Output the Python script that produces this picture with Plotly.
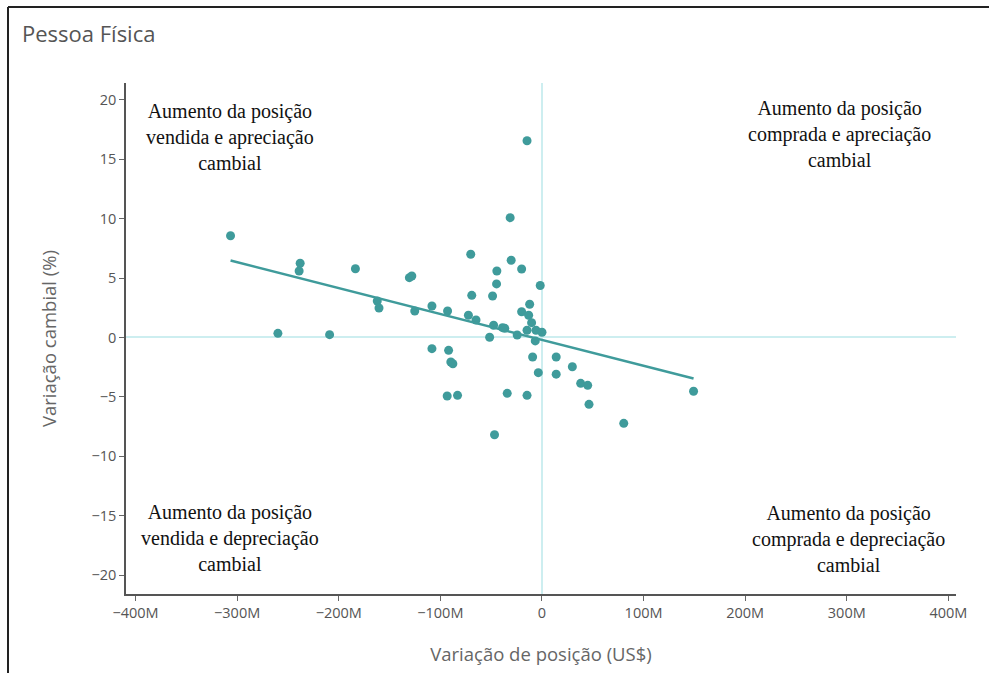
import plotly.graph_objects as go

# Variação de posição (US$ milhões) e variação cambial (%) de cada período
pos_change_musd = [
    -306.5, -238.0, -239.0, -259.9, -209.0, -183.6, -130.5, -128.1, -162.1, -160.4,
    -125.2, -108.3, -108.3, -92.9, -91.9, -89.7, -87.7, -93.3, -83.1, -70.1,
    -69.1, -72.4, -64.9, -51.5, -48.6, -47.6, -44.7, -44.4, -46.7, -38.8,
    -36.6, -34.2, -31.3, -30.3, -24.4, -20.0, -20.0, -14.7, -14.7, -14.7,
    -13.1, -12.1, -10.2, -9.2, -6.6, -5.9, -3.6, -1.7, 0.0, 14.0,
    14.0, 29.9, 38.1, 45.0, 46.3, 80.5, 149.2,
]
fx_change_pct = [
    8.57, 6.25, 5.60, 0.35, 0.24, 5.79, 5.04, 5.18, 3.07, 2.48,
    2.23, 2.65, -0.94, 2.23, -1.08, -2.06, -2.21, -4.93, -4.87, 7.01,
    3.55, 1.87, 1.47, 0.02, 3.49, 1.03, 4.51, 5.60, -8.19, 0.83,
    0.77, -4.70, 10.09, 6.50, 0.21, 5.77, 2.17, 16.57, 0.61, -4.87,
    1.87, 2.80, 1.25, -1.64, -0.29, 0.61, -2.96, 4.38, 0.44, -1.64,
    -3.09, -2.46, -3.86, -4.03, -5.63, -7.23, -4.53,
]

# Reta de tendência (% por US$ milhão)
trend_slope = -0.0218
trend_intercept = -0.2

quadrant_labels = [
    "Aumento da posição<br>vendida e apreciação<br>cambial",
    "Aumento da posição<br>comprada e apreciação<br>cambial",
    "Aumento da posição<br>vendida e depreciação<br>cambial",
    "Aumento da posição<br>comprada e depreciação<br>cambial",
]

TEAL = "#3f9b9b"
GREY = "#555555"
SERIF = "Liberation Serif, Times New Roman, serif"
SANS = "Open Sans, Noto Sans, sans-serif"

x_usd = [v * 1e6 for v in pos_change_musd]
x_lo, x_hi = min(pos_change_musd), max(pos_change_musd)
trend_x = [x_lo * 1e6, x_hi * 1e6]
trend_y = [trend_intercept + trend_slope * x_lo, trend_intercept + trend_slope * x_hi]

fig = go.Figure()
fig.add_trace(go.Scatter(
    x=x_usd, y=fx_change_pct, mode="markers",
    marker=dict(color=TEAL, size=9),
    hoverinfo="x+y",
))
fig.add_trace(go.Scatter(
    x=trend_x, y=trend_y, mode="lines",
    line=dict(color=TEAL, width=2.5),
    hoverinfo="skip",
))

# Textos dos quadrantes (coordenadas relativas à área do gráfico)
quad_pos = [(0.1253, 0.895), (0.860, 0.900), (0.1253, 0.1096), (0.870, 0.108)]
for text, (px, py) in zip(quadrant_labels, quad_pos):
    fig.add_annotation(
        text=text, x=px, y=py, xref="paper", yref="paper",
        xanchor="center", yanchor="middle", align="center", showarrow=False,
        font=dict(family=SERIF, size=20, color="#111111"),
    )

# Moldura do painel (borda esquerda e superior)
L, R, T, B = 126, 956, 83, 594
def px_to_paper_x(px):
    return (px - L) / (R - L)
def px_to_paper_y(py):
    return 1 - (py - T) / (B - T)

frame = dict(color="#222222", width=2)
fig.add_shape(type="line", xref="paper", yref="paper",
              x0=px_to_paper_x(8), x1=px_to_paper_x(8),
              y0=px_to_paper_y(7), y1=px_to_paper_y(680), line=frame)
fig.add_shape(type="line", xref="paper", yref="paper",
              x0=px_to_paper_x(8), x1=px_to_paper_x(995),
              y0=px_to_paper_y(7), y1=px_to_paper_y(7), line=frame)

fig.update_layout(
    width=989, height=673,
    margin=dict(l=L, r=989 - R, t=T, b=673 - B),
    paper_bgcolor="white", plot_bgcolor="white",
    showlegend=False,
    font=dict(family=SANS, color=GREY),
    title=dict(
        text="Pessoa Física", x=22 / 989, xanchor="left",
        y=1 - 34 / 673, yanchor="middle", xref="container", yref="container",
        font=dict(family=SANS, size=22, color=GREY),
    ),
)
fig.update_xaxes(
    range=[-409.4e6, 407.5e6], dtick=100e6, tick0=0,
    showgrid=False, zeroline=True, zerolinecolor="#cdeef0", zerolinewidth=2,
    showline=True, linecolor="#555555", linewidth=1.5,
    ticks="outside", ticklen=5, tickcolor="#666666",
    tickfont=dict(family=SANS, size=14.5, color=GREY),
    title=dict(text="Variação de posição (US$)", standoff=27,
               font=dict(family=SANS, size=18.5, color="#666666")),
)
fig.update_yaxes(
    range=[-21.6, 21.43], dtick=5, tick0=0,
    showgrid=False, zeroline=True, zerolinecolor="#cdeef0", zerolinewidth=2,
    showline=True, linecolor="#555555", linewidth=1.5,
    ticks="outside", ticklen=5, tickcolor="#666666",
    tickfont=dict(family=SANS, size=14.5, color=GREY),
    title=dict(text="Variação cambial (%)", standoff=30,
               font=dict(family=SANS, size=18.5, color="#666666")),
)

fig.write_html("out.html")
